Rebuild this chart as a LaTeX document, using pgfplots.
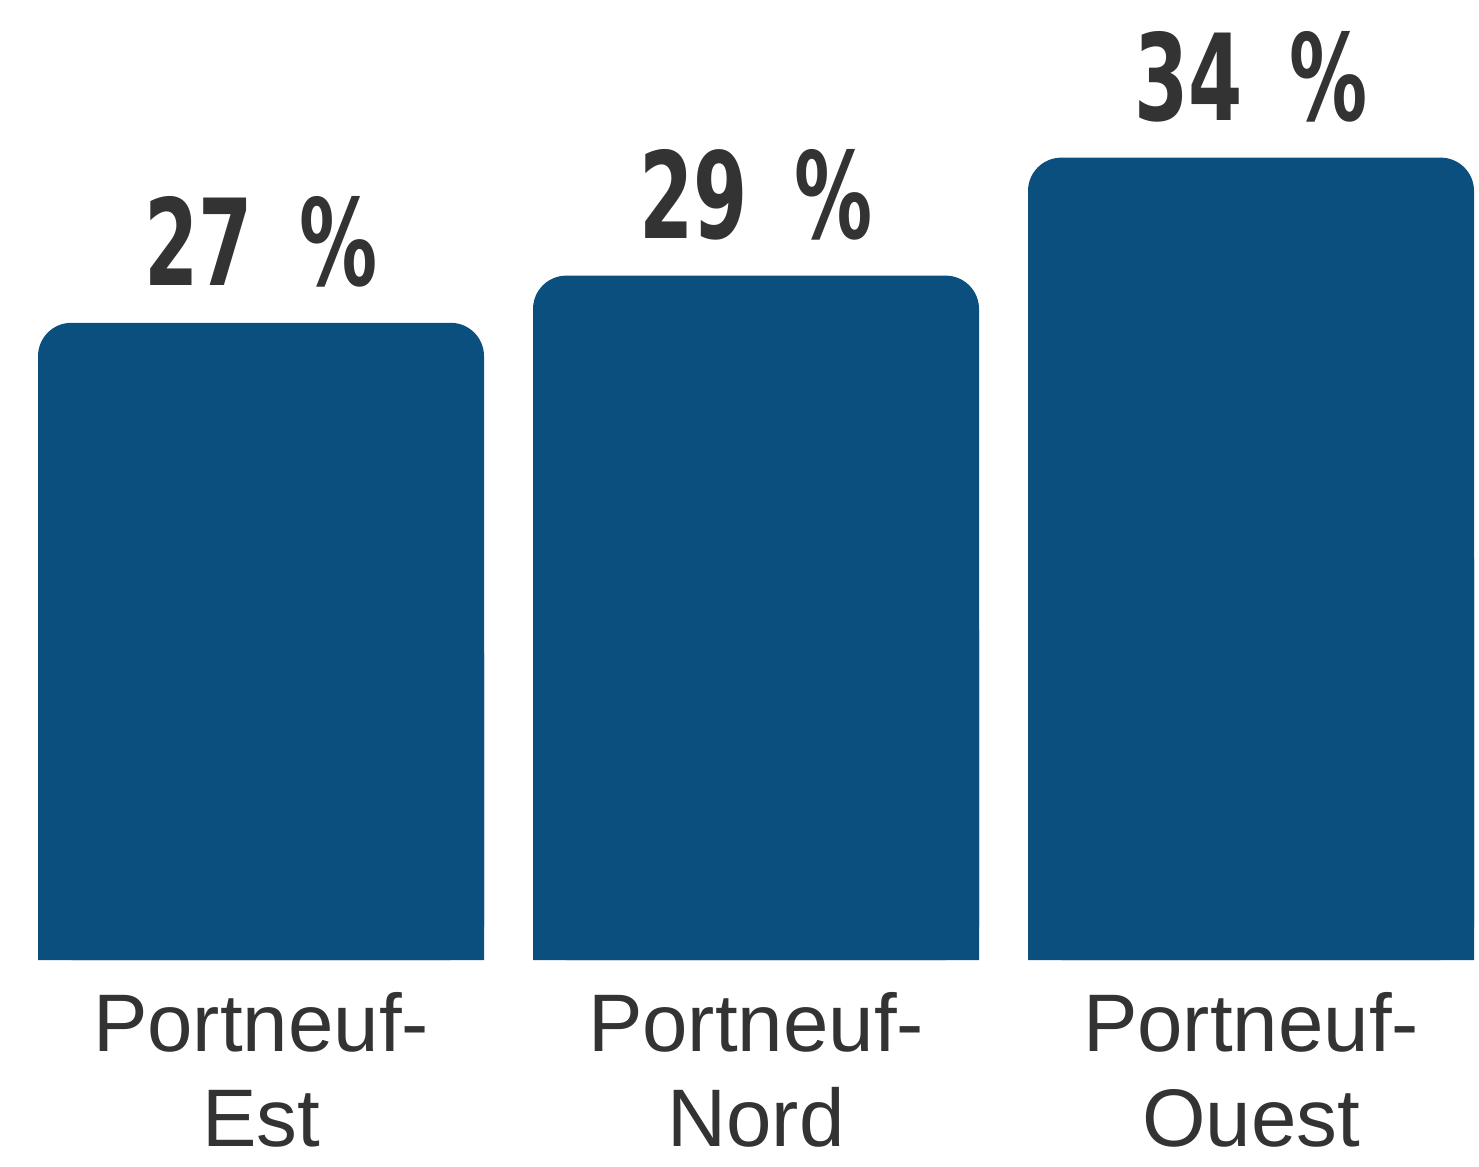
\documentclass[border=0pt]{standalone}
\usepackage{pgfplots}
\pgfplotsset{compat=1.18}
\usepackage{fontspec}
\setmainfont{Liberation Sans}
\newfontfamily\numfont[FakeStretch=0.65]{DejaVu Sans}
\definecolor{barblue}{HTML}{0A4F7E}
\definecolor{txt}{HTML}{333333}
\begin{document}
\begin{tikzpicture}
\useasboundingbox (0,-62.1pt) rectangle (443.7pt,288pt);
\begin{axis}[
  at={(0,0)}, anchor=south west,
  scale only axis, width=443.7pt, height=288pt,
  xmin=-0.5273, xmax=2.4606, ymin=0, ymax=40.68,
  axis line style={draw=none}, major tick length=0pt,
  ytick=\empty, xtick={0,1,2},
  xticklabels={Portneuf-\\Est, Portneuf-\\Nord, Portneuf-\\Ouest},
  xticklabel style={align=center, font=\fontsize{24.5}{28.5}\selectfont, text=txt, anchor=north, inner sep=0pt, yshift=-9.6pt},
  /pgf/number format/assume math mode=true,
  ybar, bar width=133.8pt,
  clip=false,
]
\addplot[fill=barblue, draw=none, bar shift=0pt, rounded corners=10pt,
  nodes near coords={\pgfmathprintnumber{\pgfplotspointmeta}\hspace{14pt}\%},
  nodes near coords style={font={\numfont\bfseries\fontsize{36}{40}\selectfont}, text=txt, anchor=south, inner sep=0pt, yshift=10.5pt}]
  coordinates {(0,27) (1,29) (2,34)};
\addplot[fill=barblue, draw=none, bar shift=0pt] coordinates {(0,13) (1,14) (2,17)};
\end{axis}
\end{tikzpicture}
\end{document}
